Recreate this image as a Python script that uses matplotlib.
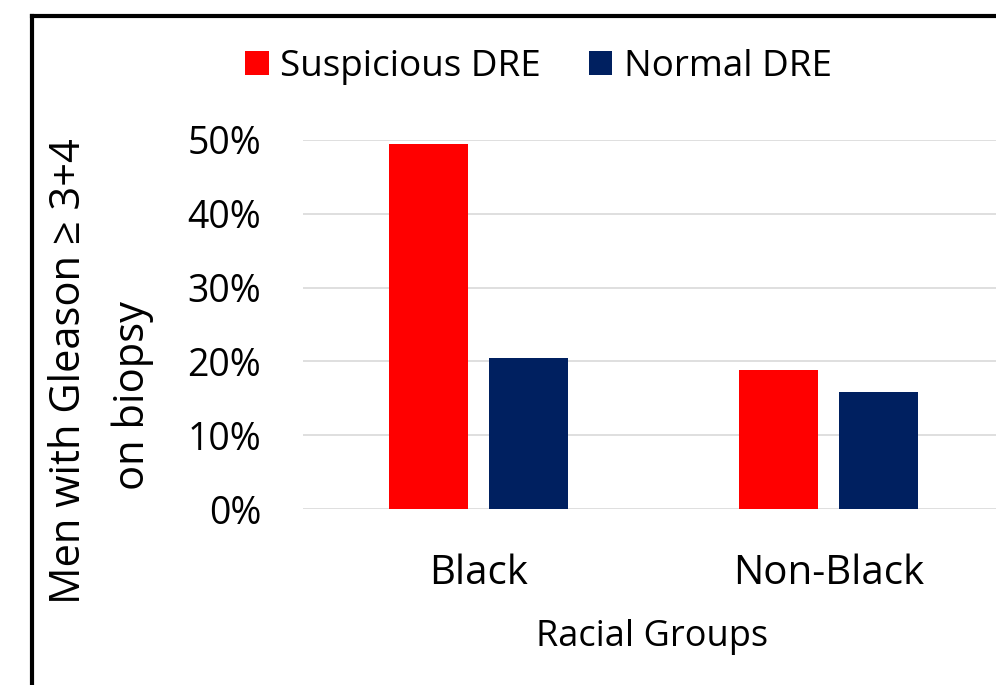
import matplotlib
matplotlib.use("Agg")
import matplotlib.pyplot as plt
from matplotlib.lines import Line2D
from matplotlib.ticker import PercentFormatter
import numpy as np

categories = ["Black", "Non-Black"]
series_names = ["Suspicious DRE", "Normal DRE"]
suspicious = [0.495, 0.189]
normal = [0.204, 0.158]
colors = ["#FF0000", "#002060"]
yticks = [0.0, 0.1, 0.2, 0.3, 0.4, 0.5]

plt.rcParams['font.family'] = ['Open Sans', 'DejaVu Sans']

W, H = 996, 685
fig = plt.figure(figsize=(W / 100, H / 100), dpi=100)

def fx(px):
    return px / W

def fy(py):
    return 1 - py / H

ax = fig.add_axes([fx(303), fy(509), fx(1004) - fx(303), fy(140) - fy(509)])
x = np.arange(len(categories))
bw = 0.225
off = 0.143
ax.bar(x - off, suspicious, bw, color=colors[0], label=series_names[0], zorder=3)
ax.bar(x + off, normal, bw, color=colors[1], label=series_names[1], zorder=3)

ax.set_xlim(-0.5, 1.5)
ax.set_ylim(0, 0.5)
ax.set_yticks(yticks)
ax.yaxis.set_major_formatter(PercentFormatter(1.0, decimals=0))
ax.set_xticks(x)
ax.set_xticklabels(categories, fontsize=29)
ax.tick_params(axis='y', labelsize=27, length=0, pad=30)
ax.tick_params(axis='x', length=0, pad=32)
ax.grid(axis='y', color='#D9D9D9', linewidth=1.2, zorder=0)
ax.set_axisbelow(True)
for s in ax.spines.values():
    s.set_visible(False)

# axis titles
fig.text(fx(652), fy(646), "Racial Groups", fontsize=26, ha='center', va='baseline')
fig.text(fx(80), fy(371), "Men with Gleason \u2265 3+4", fontsize=30, rotation=90,
         ha='center', va='baseline', rotation_mode='anchor')
fig.text(fx(144), fy(396), "on biopsy", fontsize=30, rotation=90,
         ha='center', va='baseline', rotation_mode='anchor')

# legend
leg = fig.legend(loc='center left', bbox_to_anchor=(fx(245), fy(67)), ncol=2,
                 frameon=False, fontsize=26.5, handlelength=0.65, handleheight=0.65,
                 handletextpad=0.3, columnspacing=1.3, borderpad=0, borderaxespad=0)

# outer frame (left and top edges visible)
fig.add_artist(Line2D([fx(31.5), fx(31.5)], [fy(16), fy(700)], color='black', linewidth=3,
                      transform=fig.transFigure, solid_capstyle='projecting'))
fig.add_artist(Line2D([fx(31.5), fx(1010)], [fy(16), fy(16)], color='black', linewidth=3,
                      transform=fig.transFigure, solid_capstyle='projecting'))

fig.savefig("out.png", dpi=100)
